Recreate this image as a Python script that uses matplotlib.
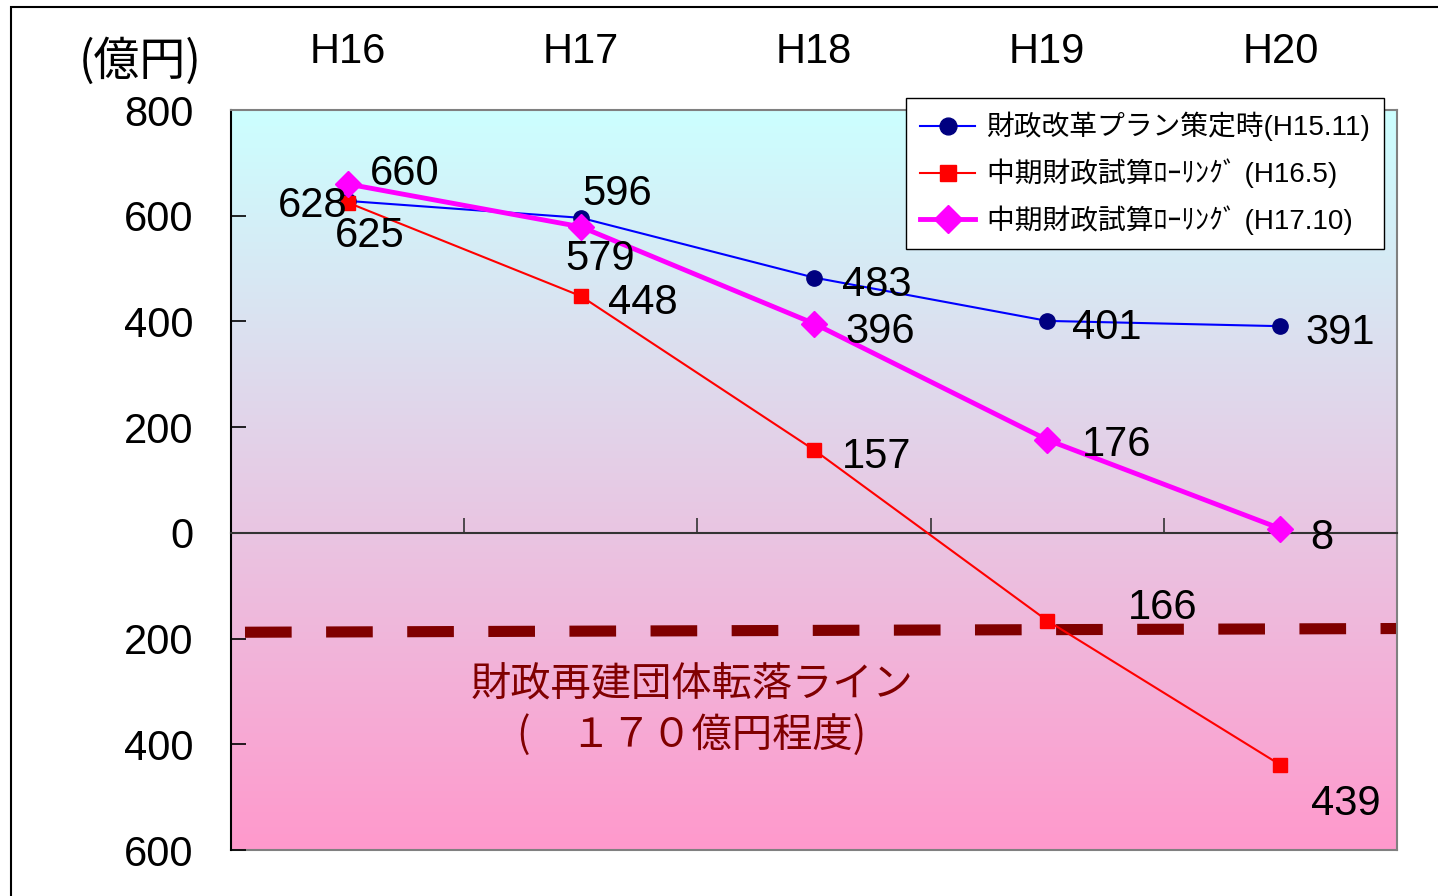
import numpy as np
import matplotlib
matplotlib.use("Agg")
import matplotlib.pyplot as plt
from matplotlib.patches import Rectangle

plt.rcParams['font.family'] = ['Liberation Sans', 'Noto Sans CJK JP']

# data
#____________________
years = ["H16", "H17", "H18", "H19", "H20"]
plan_h15 = [628, 596, 483, 401, 391]
roll_h16 = [625, 448, 157, -166, -439]
roll_h17 = [660, 579, 396, 176, 8]
names = ["財政改革プラン策定時(H15.11)",
         "中期財政試算ﾛｰﾘﾝｸﾞ (H16.5)",
         "中期財政試算ﾛｰﾘﾝｸﾞ (H17.10)"]
yticks = [-600, -400, -200, 0, 200, 400, 600, 800]
ytick_labels = ["600", "400", "200", "0", "200", "400", "600", "800"]
# 再建団体転落ライン (as drawn)
limit_x = [0.06, 5.0]
limit_y = [-188, -181]

# label offsets in points (dx, dy) per series
off_plan = [(-25, -4), (26, 17), (45, -5), (43, -5), (43, -5)]
off_h16 = [(16, -24), (45, -5), (45, -5), (83, 9), (47, -28)]
off_h17 = [(41, 7), (14, -23), (48, -6), (50, -4), (30, -7)]

fig = plt.figure(figsize=(14.38, 8.96), dpi=100)
ax = fig.add_axes([231/1438, 1-850/896, (1397-231)/1438, (850-110)/896])

x = np.arange(len(years)) + 0.5

# background gradient
top = np.array([204, 255, 255]) / 255
bot = np.array([255, 153, 204]) / 255
t = np.linspace(0, 1, 256)[:, None]
grad = (top * (1 - t) + bot * t)[:, None, :]
ax.imshow(grad, extent=[0, 5, -600, 800], aspect='auto', zorder=0)

# lines
#____________________
ax.plot(limit_x, limit_y, color='#800000', lw=8, dashes=(4.2, 3.1),
        solid_capstyle='butt', dash_capstyle='butt', zorder=2)
l1, = ax.plot(x, plan_h15, color='#0000FF', lw=1.5, marker='o', ms=11,
              mfc='#000080', mec='#000080', zorder=3, label=names[0])
l2, = ax.plot(x, roll_h16, color='#FF0000', lw=1.5, marker='s', ms=10,
              mfc='#FF0000', mec='#FF0000', zorder=3, label=names[1])
l3, = ax.plot(x, roll_h17, color='#FF00FF', lw=3.5, marker='D', ms=13,
              mfc='#FF00FF', mec='#FF00FF', zorder=4, label=names[2])

for vals, offs in [(plan_h15, off_plan), (roll_h16, off_h16), (roll_h17, off_h17)]:
    for xi, v, o in zip(x, vals, offs):
        ax.annotate(str(abs(v)), (xi, v), xytext=o, textcoords='offset points',
                    ha='center', va='center', fontsize=30, zorder=5)

ax.text(0.395, 0.224, "財政再建団体転落ライン", transform=ax.transAxes,
        ha='center', va='center', fontsize=29, color='#800000',
        family='Noto Sans CJK JP')
ax.text(0.395, 0.155, "(　１７０億円程度)", transform=ax.transAxes,
        ha='center', va='center', fontsize=29, color='#800000',
        family='Noto Sans CJK JP')

# axes
#____________________
ax.set_xlim(0, 5)
ax.set_ylim(-600, 800)
ax.spines['bottom'].set_position(('data', 0))
ax.spines['bottom'].set_color('#333333')
ax.spines['bottom'].set_linewidth(1.5)
ax.spines['left'].set_color('black')
ax.spines['left'].set_linewidth(1.5)
for s in ['top', 'right']:
    ax.spines[s].set_color('#808080')
    ax.spines[s].set_linewidth(1.5)
ax.axhline(-600, color='#808080', lw=1.5, clip_on=False, zorder=1)

ax.set_xticks(range(6))
ax.set_xticklabels([])
ax.tick_params(axis='x', direction='in', length=11, width=1.2, color='#333333')
ax.set_yticks(yticks)
ax.set_yticklabels(ytick_labels)
ax.tick_params(axis='y', direction='in', length=11, width=1.2, pad=27, labelsize=30)

sec = ax.secondary_xaxis('top')
sec.set_xticks(x)
sec.set_xticklabels(years)
sec.tick_params(length=0, pad=27, labelsize=30)
sec.spines['top'].set_visible(False)

fig.text(140/1438, 1-62/896, "(億円)", ha='center', va='center', fontsize=33,
         family='Noto Sans CJK JP')

leg = ax.legend(handles=[l1, l2, l3], loc='upper left',
                bbox_to_anchor=(906/1438, 1-98/896), bbox_transform=fig.transFigure,
                fontsize=20, frameon=True, fancybox=False, framealpha=1,
                edgecolor='black', borderaxespad=0, handlelength=2.0,
                handletextpad=0.4, labelspacing=0.62, borderpad=0.5,
                markerscale=1.1)
leg.get_frame().set_linewidth(1.0)

fig.patches.append(Rectangle((11/1438, -0.1), 1.2, 1.1 - 7/896, fill=False,
                             edgecolor='black', lw=1.5, transform=fig.transFigure))

fig.savefig("out.png", dpi=100)
